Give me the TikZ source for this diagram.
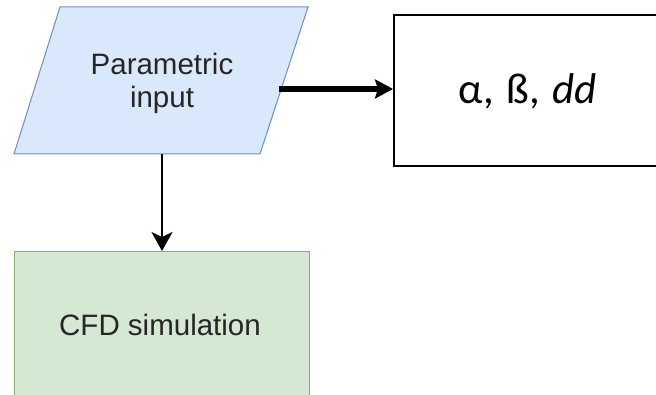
\documentclass[tikz,border=0pt]{standalone}
\usepackage{fontspec}
\setmainfont{Liberation Sans}
\newfontfamily\calibrifont{Carlito}
\usetikzlibrary{arrows.meta}
\definecolor{inblue}{HTML}{DAE8FC}
\definecolor{inbluedraw}{HTML}{6C8EBF}
\definecolor{simgreen}{HTML}{D5E8D4}
\definecolor{simgreendraw}{HTML}{82B366}
\definecolor{labelgray}{HTML}{262626}
\tikzset{
  flowtext/.style={font=\fontsize{29.5}{33}\selectfont, text=labelgray, align=center, inner sep=0pt},
  paramtext/.style={font=\calibrifont\fontsize{43}{46}\selectfont, text=black, inner sep=0pt},
  thinarrow/.style={draw=black, line width=1.4pt, -{Stealth[length=19pt, width=21pt, inset=5pt]}},
  thickarrow/.style={draw=black, line width=5.5pt, -{Stealth[length=18pt, width=19pt, inset=3pt]}}
}
\begin{document}
\begin{tikzpicture}[x=1pt, y=-1pt]
  \useasboundingbox (0,0) rectangle (656,395);
  \fill[white] (0,0) rectangle (656,395);

  % input parallelogram
  \coordinate (ptl) at (60,7);
  \coordinate (ptr) at (308,7);
  \coordinate (pbr) at (260,154);
  \coordinate (pbl) at (14,154);
  \filldraw[fill=inblue, draw=inbluedraw, line width=1pt] (ptl) -- (ptr) -- (pbr) -- (pbl) -- cycle;
  \node[flowtext] (param) at (162,83) {Parametric\\input};
  \coordinate (pright) at (279,89);
  \coordinate (pbottom) at (162,154);

  % parameter list box
  \node[draw=black, line width=2pt, minimum width=266pt, minimum height=151pt, anchor=north west, inner sep=0pt] (plist) at (393,14) {};
  \node[paramtext, anchor=base] (plabel) at (528,104) {α,\hspace{3pt} ß,\hspace{3pt} \textit{dd}};

  % simulation box
  \node[draw=simgreendraw, fill=simgreen, line width=1pt, minimum width=295pt, minimum height=170pt, anchor=north west, inner sep=0pt] (sim) at (14,251) {};
  \node[flowtext, anchor=base] (simlabel) at (160,335) {CFD simulation};

  % connectors
  \draw[thickarrow] (pright) -- (plist.west |- pright);
  \draw[thinarrow] (pbottom) -- (sim.north -| pbottom);
\end{tikzpicture}
\end{document}
